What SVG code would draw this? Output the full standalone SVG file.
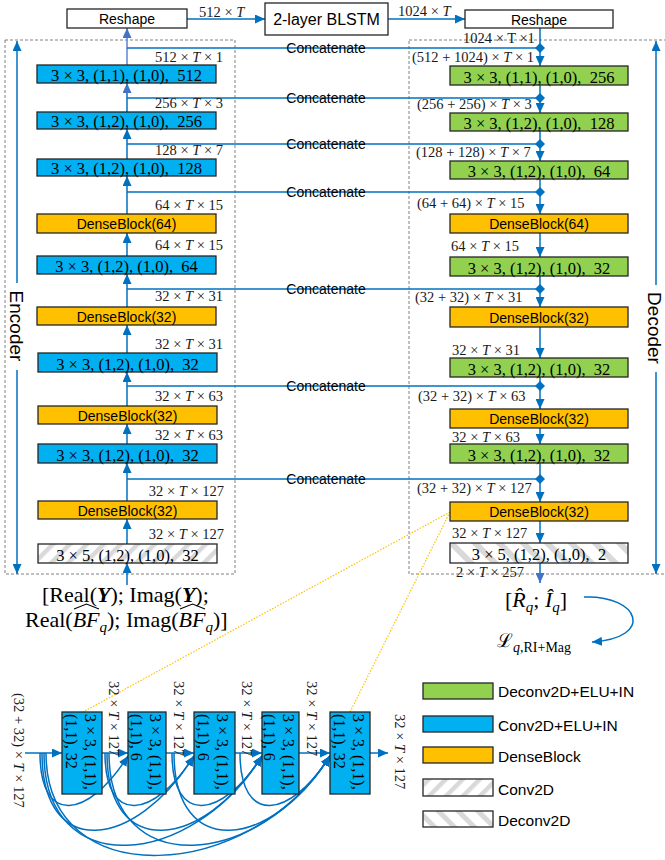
<svg xmlns="http://www.w3.org/2000/svg" width="665" height="860" viewBox="0 0 665 860">
<style>
.ln{stroke:#0070C0;stroke-width:1.5;fill:none}
.lt{stroke:#5B86D6;stroke-width:1.5;fill:none}
.bx{stroke:#262626;stroke-width:1.3}
.blue{fill:#00B0F0}.green{fill:#92D050}.orange{fill:#FFC000}.wh{fill:#fff}
.dash{fill:none;stroke:#808080;stroke-width:1;stroke-dasharray:3,2}
.bt{font-family:"Liberation Serif",serif;font-size:16.5px;text-anchor:middle;fill:#000}
.db{font-family:"Liberation Sans",Arial,sans-serif;font-size:14px;text-anchor:middle;fill:#000}
.dim{font-family:"Liberation Serif",serif;font-size:14.5px;fill:#1a1a1a}
.cat{font-family:"Liberation Sans",Arial,sans-serif;font-size:14px;text-anchor:middle;fill:#000}
.sans{font-family:"Liberation Sans",Arial,sans-serif;fill:#000}
.ser{font-family:"Liberation Serif",serif;fill:#000}
.rt{font-family:"Liberation Serif",serif;font-size:16px;fill:#000}
.dot{stroke:#FFC000;stroke-width:1.2;stroke-dasharray:1.5,1.5;fill:none}
.hat{stroke:#000;stroke-width:1.1;fill:none}
</style>
<defs>
<marker id="ah" viewBox="0 0 10 9" refX="10" refY="4.5" markerWidth="10" markerHeight="9" markerUnits="userSpaceOnUse" orient="auto"><path d="M0,0 L10,4.5 L0,9 z" fill="#0070C0"/></marker>
<marker id="ah2" viewBox="0 0 10 9" refX="10" refY="4.5" markerWidth="10" markerHeight="9" markerUnits="userSpaceOnUse" orient="auto"><path d="M0,0 L10,4.5 L0,9 z" fill="#4472C4"/></marker>
<marker id="dm" viewBox="0 0 10 10" refX="5" refY="5" markerWidth="10" markerHeight="10" markerUnits="userSpaceOnUse" orient="auto"><path d="M0,5 L5,0 L10,5 L5,10 z" fill="#0070C0"/></marker>
<pattern id="hconv" patternUnits="userSpaceOnUse" width="12" height="12" patternTransform="rotate(45)"><rect width="12" height="12" fill="#fff"/><rect width="4.5" height="12" fill="#D9D9D9"/></pattern>
<pattern id="hdec" patternUnits="userSpaceOnUse" width="17" height="17" patternTransform="rotate(-45)"><rect width="17" height="17" fill="#fff"/><rect width="6" height="17" fill="#D9D9D9"/></pattern>
<pattern id="hdecL" patternUnits="userSpaceOnUse" width="14" height="14" patternTransform="rotate(-45)"><rect width="14" height="14" fill="#fff"/><rect width="5" height="14" fill="#D9D9D9"/></pattern>
</defs>
<rect width="665" height="860" fill="#fff"/>

<!-- dashed frames -->
<g id="encoder-frame">
<rect class="dash" x="5" y="40" width="230" height="534"/>
</g>
<g id="decoder-frame">
<rect class="dash" x="409" y="40" width="258" height="534"/>
</g>

<!-- connectors -->
<g id="connectors">
<path class="ln" d="M187,19 H265" marker-end="url(#ah)"/>
<path class="ln" d="M388,19 H465" marker-end="url(#ah)"/>
<!-- side arrows -->
<path class="ln" d="M17,283 V41" marker-end="url(#ah)"/>
<path class="ln" d="M17,370 V574" marker-end="url(#ah)"/>
<path class="ln" d="M656,285 V41" marker-end="url(#ah)"/>
<path class="ln" d="M656,372 V574" marker-end="url(#ah)"/>
<!-- encoder chain -->
<path class="ln" d="M127,585 V563" marker-end="url(#ah)"/>
<path class="ln" d="M127,544 V519" marker-end="url(#ah)"/>
<path class="ln" d="M127,501 V463" marker-end="url(#ah)"/>
<path class="ln" d="M127,444 V424" marker-end="url(#ah)"/>
<path class="ln" d="M127,406 V372" marker-end="url(#ah)"/>
<path class="ln" d="M127,353 V325" marker-end="url(#ah)"/>
<path class="ln" d="M127,307 V274" marker-end="url(#ah)"/>
<path class="ln" d="M127,256 V233" marker-end="url(#ah)"/>
<path class="ln" d="M127,214 V176" marker-end="url(#ah)"/>
<path class="ln" d="M127,159 V129" marker-end="url(#ah)"/>
<path class="ln" d="M127,112 V83" marker-end="url(#ah2)"/>
<path class="lt" d="M127,65 V28" marker-end="url(#ah2)"/>
<!-- concatenate (skip) lines -->
<path class="ln" d="M127,48 H540" marker-end="url(#dm)"/>
<path class="ln" d="M127,98 H540" marker-end="url(#dm)"/>
<path class="ln" d="M127,144 H540" marker-end="url(#dm)"/>
<path class="ln" d="M127,192 H540" marker-end="url(#dm)"/>
<path class="ln" d="M127,289 H540" marker-end="url(#dm)"/>
<path class="ln" d="M127,386 H540" marker-end="url(#dm)"/>
<path class="ln" d="M127,479 H540" marker-end="url(#dm)"/>
<!-- decoder chain -->
<path class="ln" d="M540,28 V66" marker-end="url(#ah)"/>
<path class="ln" d="M540,85 V113" marker-end="url(#ah)"/>
<path class="ln" d="M540,131 V161" marker-end="url(#ah)"/>
<path class="ln" d="M540,179 V214" marker-end="url(#ah)"/>
<path class="ln" d="M540,233 V257" marker-end="url(#ah)"/>
<path class="ln" d="M540,276 V307" marker-end="url(#ah)"/>
<path class="ln" d="M540,327 V358" marker-end="url(#ah)"/>
<path class="ln" d="M540,377 V409" marker-end="url(#ah)"/>
<path class="ln" d="M540,428 V444" marker-end="url(#ah)"/>
<path class="ln" d="M540,463 V502" marker-end="url(#ah)"/>
<path class="ln" d="M540,521 V543" marker-end="url(#ah)"/>
<path class="ln" d="M540,563 V583" marker-end="url(#ah2)"/>
<!-- loss arrow -->
<path class="ln" d="M584,597 C640,595 655,638 592,642" marker-end="url(#ah)"/>
<!-- zoom guide -->
<path class="dot" d="M450,512 L83,712"/>
<path class="dot" d="M450,512 L350,712"/>
<!-- dense block chain -->
<path class="ln" d="M25,753 H62" marker-end="url(#ah)"/>
<path class="ln" d="M102,753 H128" marker-end="url(#ah)"/>
<path class="ln" d="M166,753 H194" marker-end="url(#ah)"/>
<path class="ln" d="M235,753 H262" marker-end="url(#ah)"/>
<path class="ln" d="M299,753 H330" marker-end="url(#ah)"/>
<path class="ln" d="M370,753 H388" marker-end="url(#ah)"/>
<!-- dense arcs -->
<path class="ln" d="M40,753 C40,826 88,819 128,756" marker-end="url(#ah)"/>
<path class="ln" d="M42,753 C42,861 135,850 194,756" marker-end="url(#ah)"/>
<path class="ln" d="M44,753 C44,882 191,869 262,756" marker-end="url(#ah)"/>
<path class="ln" d="M46,753 C46,896 251,882 330,756" marker-end="url(#ah)"/>
<path class="ln" d="M105,753 C105,826 154,819 194,756" marker-end="url(#ah)"/>
<path class="ln" d="M107,753 C107,861 203,850 262,756" marker-end="url(#ah)"/>
<path class="ln" d="M109,753 C109,882 259,869 330,756" marker-end="url(#ah)"/>
<path class="ln" d="M172,753 C172,826 222,819 262,756" marker-end="url(#ah)"/>
<path class="ln" d="M174,753 C174,861 271,850 330,756" marker-end="url(#ah)"/>
<path class="ln" d="M240,753 C240,826 290,819 330,756" marker-end="url(#ah)"/>
</g>

<!-- top row -->
<g id="reshape-enc">
<rect class="bx wh" x="67" y="9" width="120" height="19"/>
<text class="sans" x="127" y="24" font-size="14" text-anchor="middle">Reshape</text>
</g>
<g id="blstm">
<rect class="bx wh" x="265" y="3" width="123" height="32"/>
<text class="sans" x="326.5" y="25" font-size="16" text-anchor="middle">2-layer BLSTM</text>
</g>
<g id="reshape-dec">
<rect class="bx wh" x="465" y="10" width="148" height="18"/>
<text class="sans" x="539" y="25" font-size="14" text-anchor="middle">Reshape</text>
</g>
<g id="top-labels">
<text class="dim" x="199" y="17">512 × <tspan font-style="italic">T</tspan></text>
<text class="dim" x="398" y="16">1024 × <tspan font-style="italic">T</tspan></text>
<text class="dim" x="463" y="43" font-size="13.5">1024 × T ×1</text>
</g>

<!-- side labels -->
<g id="encoder-label">
<text class="sans" font-size="19" text-anchor="middle" transform="translate(10,326) rotate(90)">Encoder</text>
</g>
<g id="decoder-label">
<text class="sans" font-size="19" text-anchor="middle" transform="translate(648,328) rotate(90)">Decoder</text>
</g>

<!-- concatenate labels -->
<g id="concat-labels">
<text class="cat" x="326" y="53">Concatenate</text>
<text class="cat" x="326" y="103">Concatenate</text>
<text class="cat" x="326" y="149">Concatenate</text>
<text class="cat" x="326" y="197">Concatenate</text>
<text class="cat" x="326" y="294">Concatenate</text>
<text class="cat" x="326" y="391">Concatenate</text>
<text class="cat" x="326" y="484">Concatenate</text>
</g>

<!-- encoder nodes -->
<g id="enc1"><rect class="bx blue" x="37" y="65" width="179" height="18"/><text class="bt" x="126.5" y="80.5">3 × 3, (1,1), (1,0),&#160; 512</text></g>
<g id="enc2"><rect class="bx blue" x="37" y="112" width="179" height="17"/><text class="bt" x="126.5" y="126.5">3 × 3, (1,2), (1,0),&#160; 256</text></g>
<g id="enc3"><rect class="bx blue" x="37" y="159" width="179" height="17"/><text class="bt" x="126.5" y="173.5">3 × 3, (1,2), (1,0),&#160; 128</text></g>
<g id="enc4"><rect class="bx orange" x="37" y="214" width="179" height="19"/><text class="db" x="126.5" y="229">DenseBlock(64)</text></g>
<g id="enc5"><rect class="bx blue" x="37" y="256" width="179" height="18"/><text class="bt" x="126.5" y="271.5">3 × 3, (1,2), (1,0),&#160; 64</text></g>
<g id="enc6"><rect class="bx orange" x="37" y="307" width="179" height="18"/><text class="db" x="126.5" y="321.5">DenseBlock(32)</text></g>
<g id="enc7"><rect class="bx blue" x="38" y="353" width="179" height="19"/><text class="bt" x="127.5" y="369.5">3 × 3, (1,2), (1,0),&#160; 32</text></g>
<g id="enc8"><rect class="bx orange" x="38" y="406" width="179" height="18"/><text class="db" x="127.5" y="420.5">DenseBlock(32)</text></g>
<g id="enc9"><rect class="bx blue" x="38" y="444" width="179" height="19"/><text class="bt" x="127.5" y="460.5">3 × 3, (1,2), (1,0),&#160; 32</text></g>
<g id="enc10"><rect class="bx orange" x="38" y="501" width="179" height="18"/><text class="db" x="127.5" y="515.5">DenseBlock(32)</text></g>
<g id="enc11"><rect class="bx" fill="url(#hconv)" x="38" y="544" width="179" height="19"/><text class="bt" x="127.5" y="560.5">3 × 5, (1,2), (1,0),&#160; 32</text></g>

<g id="enc-dims" text-anchor="end">
<text class="dim" x="223" y="62">512 × <tspan font-style="italic">T</tspan> × 1</text>
<text class="dim" x="223" y="108">256 × <tspan font-style="italic">T</tspan> × 3</text>
<text class="dim" x="223" y="155">128 × <tspan font-style="italic">T</tspan> × 7</text>
<text class="dim" x="223" y="210">64 × <tspan font-style="italic">T</tspan> × 15</text>
<text class="dim" x="223" y="250">64 × <tspan font-style="italic">T</tspan> × 15</text>
<text class="dim" x="223" y="301">32 × <tspan font-style="italic">T</tspan> × 31</text>
<text class="dim" x="223" y="349">32 × <tspan font-style="italic">T</tspan> × 31</text>
<text class="dim" x="223" y="401">32 × <tspan font-style="italic">T</tspan> × 63</text>
<text class="dim" x="223" y="440">32 × <tspan font-style="italic">T</tspan> × 63</text>
<text class="dim" x="224" y="496">32 × <tspan font-style="italic">T</tspan> × 127</text>
<text class="dim" x="224" y="539">32 × <tspan font-style="italic">T</tspan> × 127</text>
</g>

<!-- decoder nodes -->
<g id="dec1"><rect class="bx green" x="450" y="66" width="178" height="19"/><text class="bt" x="539" y="82.5">3 × 3, (1,1), (1,0),&#160; 256</text></g>
<g id="dec2"><rect class="bx green" x="450" y="113" width="178" height="18"/><text class="bt" x="539" y="128.5">3 × 3, (1,2), (1,0),&#160; 128</text></g>
<g id="dec3"><rect class="bx green" x="450" y="161" width="178" height="18"/><text class="bt" x="539" y="176.5">3 × 3, (1,2), (1,0),&#160; 64</text></g>
<g id="dec4"><rect class="bx orange" x="450" y="214" width="178" height="19"/><text class="db" x="539" y="229">DenseBlock(64)</text></g>
<g id="dec5"><rect class="bx green" x="450" y="257" width="178" height="19"/><text class="bt" x="539" y="273.5">3 × 3, (1,2), (1,0),&#160; 32</text></g>
<g id="dec6"><rect class="bx orange" x="450" y="307" width="178" height="20"/><text class="db" x="539" y="322.5">DenseBlock(32)</text></g>
<g id="dec7"><rect class="bx green" x="450" y="358" width="178" height="19"/><text class="bt" x="539" y="374.5">3 × 3, (1,2), (1,0),&#160; 32</text></g>
<g id="dec8"><rect class="bx orange" x="450" y="409" width="178" height="19"/><text class="db" x="539" y="424">DenseBlock(32)</text></g>
<g id="dec9"><rect class="bx green" x="450" y="444" width="178" height="19"/><text class="bt" x="539" y="460.5">3 × 3, (1,2), (1,0),&#160; 32</text></g>
<g id="dec10"><rect class="bx orange" x="450" y="502" width="178" height="19"/><text class="db" x="539" y="517">DenseBlock(32)</text></g>
<g id="dec11"><rect class="bx" fill="url(#hdec)" x="450" y="543" width="178" height="20"/><text class="bt" x="539" y="560">3 × 5, (1,2), (1,0),&#160; 2</text></g>

<g id="dec-dims">
<text class="dim" x="412" y="62">(512 + 1024) × <tspan font-style="italic">T</tspan> × 1</text>
<text class="dim" x="417" y="109">(256 + 256) × <tspan font-style="italic">T</tspan> × 3</text>
<text class="dim" x="416" y="157">(128 + 128) × <tspan font-style="italic">T</tspan> × 7</text>
<text class="dim" x="417" y="208">(64 + 64) × <tspan font-style="italic">T</tspan> × 15</text>
<text class="dim" x="451" y="251">64 × <tspan font-style="italic">T</tspan> × 15</text>
<text class="dim" x="415" y="302">(32 + 32) × <tspan font-style="italic">T</tspan> × 31</text>
<text class="dim" x="452" y="355">32 × <tspan font-style="italic">T</tspan> × 31</text>
<text class="dim" x="418" y="401">(32 + 32) × <tspan font-style="italic">T</tspan> × 63</text>
<text class="dim" x="452" y="442">32 × <tspan font-style="italic">T</tspan> × 63</text>
<text class="dim" x="417" y="493">(32 + 32) × <tspan font-style="italic">T</tspan> × 127</text>
<text class="dim" x="452" y="538">32 × <tspan font-style="italic">T</tspan> × 127</text>
<text class="dim" x="456" y="577">2 × <tspan font-style="italic">T</tspan> × 257</text>
</g>

<!-- input -->
<g id="input">
<text class="ser" font-size="22" x="42" y="602">[Real(<tspan font-weight="bold" font-style="italic">Y</tspan>); Imag(<tspan font-weight="bold" font-style="italic">Y</tspan>);</text>
<text class="ser" font-size="22" x="25" y="627">Real(<tspan font-style="italic">BF</tspan><tspan font-style="italic" font-size="15" dy="5">q</tspan><tspan dy="-5">); Imag(</tspan><tspan font-style="italic">BF</tspan><tspan font-style="italic" font-size="15" dy="5">q</tspan><tspan dy="-5">)]</tspan></text>
<polyline class="hat" points="74,609 86.5,604 99,609"/>
<polyline class="hat" points="180,609 192.5,604 205,609"/>
</g>

<!-- output -->
<g id="output">
<text class="ser" font-size="22" x="505" y="607">[<tspan font-style="italic">R̂</tspan><tspan font-style="italic" font-size="15" dy="5">q</tspan><tspan dy="-5">; </tspan><tspan font-style="italic">Î</tspan><tspan font-style="italic" font-size="15" dy="5">q</tspan><tspan dy="-5">]</tspan></text>
</g>
<g id="loss">
<text class="ser" x="497" y="647"><tspan font-family="'DejaVu Serif',serif" font-size="19">ℒ</tspan><tspan font-style="italic" font-size="14" dy="5">q</tspan><tspan font-size="14">,RI+Mag</tspan></text>
</g>

<!-- dense block detail -->
<g id="db1"><rect class="bx blue" x="62" y="712" width="40" height="82"/><text class="rt" transform="translate(85,714) rotate(90)"><tspan x="0" y="0">3 × 3, (1,1),</tspan><tspan x="0" y="19">(1,1), 32</tspan></text></g>
<g id="db2"><rect class="bx blue" x="128" y="712" width="38" height="82"/><text class="rt" transform="translate(150,714) rotate(90)"><tspan x="0" y="0">3 × 3, (1,1),</tspan><tspan x="0" y="19">(1,1), 6</tspan></text></g>
<g id="db3"><rect class="bx blue" x="194" y="712" width="41" height="82"/><text class="rt" transform="translate(217,714) rotate(90)"><tspan x="0" y="0">3 × 3, (1,1),</tspan><tspan x="0" y="19">(1,1), 6</tspan></text></g>
<g id="db4"><rect class="bx blue" x="262" y="712" width="37" height="82"/><text class="rt" transform="translate(283,714) rotate(90)"><tspan x="0" y="0">3 × 3, (1,1),</tspan><tspan x="0" y="19">(1,1), 6</tspan></text></g>
<g id="db5"><rect class="bx blue" x="330" y="712" width="40" height="82"/><text class="rt" transform="translate(353,714) rotate(90)"><tspan x="0" y="0">3 × 3, (1,1),</tspan><tspan x="0" y="19">(1,1), 32</tspan></text></g>

<g id="db-dims">
<text class="dim" transform="translate(14,693) rotate(90)">(32 + 32) × <tspan font-style="italic">T</tspan> × 127</text>
<text class="dim" transform="translate(109,681) rotate(90)">32 × <tspan font-style="italic">T</tspan> × 127</text>
<text class="dim" transform="translate(174,681) rotate(90)">32 × <tspan font-style="italic">T</tspan> × 127</text>
<text class="dim" transform="translate(242,681) rotate(90)">32 × <tspan font-style="italic">T</tspan> × 127</text>
<text class="dim" transform="translate(307,681) rotate(90)">32 × <tspan font-style="italic">T</tspan> × 127</text>
<text class="dim" transform="translate(395,714) rotate(90)">32 × <tspan font-style="italic">T</tspan> × 127</text>
</g>

<!-- legend -->
<g id="legend-deconv-elu">
<rect class="bx green" x="423" y="683" width="70" height="16"/>
<text class="sans" x="498" y="697" font-size="15.5">Deconv2D+ELU+IN</text>
</g>
<g id="legend-conv-elu">
<rect class="bx blue" x="423" y="716" width="70" height="16"/>
<text class="sans" x="498" y="731" font-size="15.5">Conv2D+ELU+IN</text>
</g>
<g id="legend-dense">
<rect class="bx orange" x="423" y="747" width="70" height="16"/>
<text class="sans" x="498" y="762" font-size="15.5">DenseBlock</text>
</g>
<g id="legend-conv">
<rect class="bx" fill="url(#hconv)" x="423" y="779" width="70" height="17"/>
<text class="sans" x="498" y="795" font-size="15.5">Conv2D</text>
</g>
<g id="legend-deconv">
<rect class="bx" fill="url(#hdecL)" x="423" y="811" width="70" height="16"/>
<text class="sans" x="498" y="826" font-size="15.5">Deconv2D</text>
</g>
</svg>
